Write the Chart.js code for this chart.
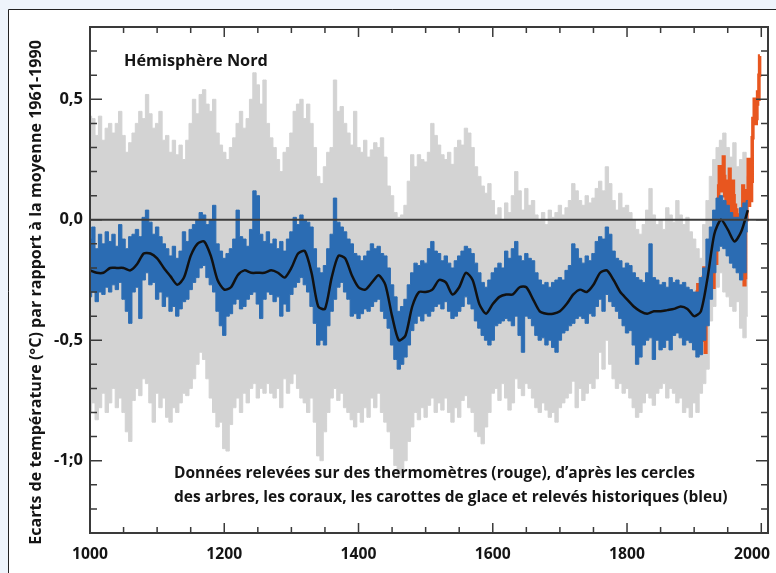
<!DOCTYPE html>
<html>
<head>
<meta charset="utf-8">
<script src="https://cdn.jsdelivr.net/npm/chart.js@4.4.0/dist/chart.umd.min.js"></script>
<style>
  html, body { margin: 0; padding: 0; background: #eef4fb; }
  #wrap { width: 776px; height: 573px; }
</style>
</head>
<body>
<div id="wrap"><canvas id="myChart" width="776" height="573"></canvas></div>
<script>
// axes
const xMin = 1000, xMax = 2010;
const yMin = -1.3, yMax = 0.8;
const xTickValues = [1000, 1200, 1400, 1600, 1800, 2000];
const yTickValues = [0.5, 0, -0.5, -1.0];
const yTickLabels = ['0,5', '0,0', '-0,5', '-1;0'];

// reconstruction, 5-year bins from 1000 to 1980 (band = range inside each bin)
const binStart = 1000, binStep = 5;
const blueHi = [
  -0.08, -0.03, -0.12, -0.06, -0.10, -0.05, -0.09, -0.06, -0.11, -0.02,
  -0.08, -0.12, -0.07, -0.06, -0.04, -0.07, 0.01, 0.04, -0.01, -0.06,
  -0.03, -0.07, -0.10, -0.12, -0.15, -0.11, -0.16, -0.13, -0.05, -0.09,
  -0.04, -0.02, 0.00, 0.03, 0.02, -0.02, 0.00, 0.06, -0.10, -0.13,
  -0.16, -0.14, -0.12, -0.08, 0.04, -0.07, -0.08, -0.11, -0.04, 0.12,
  0.10, -0.06, -0.09, -0.05, -0.10, -0.08, -0.12, -0.09, -0.13, -0.08,
  -0.05, 0.01, -0.02, 0.02, 0.00, -0.01, -0.03, -0.12, -0.20, -0.22,
  -0.19, -0.12, -0.06, 0.09, -0.01, -0.03, -0.05, -0.08, -0.10, -0.14,
  -0.15, -0.17, -0.15, -0.13, -0.10, -0.12, -0.11, -0.14, -0.15, -0.20,
  -0.27, -0.32, -0.38, -0.36, -0.33, -0.27, -0.22, -0.18, -0.19, -0.17,
  -0.18, -0.12, -0.09, -0.13, -0.14, -0.17, -0.15, -0.18, -0.20, -0.17,
  -0.15, -0.13, -0.11, -0.12, -0.14, -0.18, -0.22, -0.26, -0.28, -0.25,
  -0.22, -0.20, -0.18, -0.20, -0.13, -0.16, -0.12, -0.09, -0.15, -0.17,
  -0.14, -0.16, -0.17, -0.22, -0.25, -0.27, -0.26, -0.28, -0.26, -0.25,
  -0.24, -0.25, -0.21, -0.19, -0.10, -0.12, -0.16, -0.18, -0.15, -0.17,
  -0.14, -0.09, -0.07, -0.08, -0.03, -0.06, -0.13, -0.16, -0.17, -0.20,
  -0.18, -0.19, -0.22, -0.24, -0.25, -0.26, -0.22, -0.10, -0.24, -0.25,
  -0.27, -0.26, -0.28, -0.24, -0.26, -0.25, -0.27, -0.26, -0.28, -0.29,
  -0.30, -0.30, -0.24, -0.20, -0.08, -0.03, 0.04, 0.09, 0.10, 0.08,
  0.06, 0.03, 0.01, 0.01, 0.05, 0.07, 0.08
];
const blueLo = [
  -0.32, -0.30, -0.34, -0.30, -0.31, -0.28, -0.30, -0.27, -0.29, -0.26,
  -0.33, -0.38, -0.43, -0.30, -0.28, -0.41, -0.25, -0.22, -0.27, -0.26,
  -0.33, -0.30, -0.36, -0.32, -0.38, -0.36, -0.40, -0.37, -0.34, -0.33,
  -0.29, -0.26, -0.24, -0.20, -0.19, -0.24, -0.27, -0.30, -0.38, -0.44,
  -0.48, -0.40, -0.39, -0.35, -0.33, -0.37, -0.36, -0.33, -0.31, -0.30,
  -0.35, -0.41, -0.33, -0.30, -0.31, -0.34, -0.32, -0.40, -0.35, -0.38,
  -0.31, -0.28, -0.26, -0.24, -0.27, -0.30, -0.36, -0.43, -0.52, -0.50,
  -0.52, -0.44, -0.38, -0.33, -0.28, -0.26, -0.30, -0.33, -0.40, -0.39,
  -0.41, -0.39, -0.37, -0.38, -0.36, -0.34, -0.33, -0.38, -0.41, -0.45,
  -0.52, -0.58, -0.62, -0.60, -0.57, -0.52, -0.46, -0.43, -0.40, -0.42,
  -0.39, -0.40, -0.38, -0.36, -0.35, -0.37, -0.34, -0.38, -0.41, -0.40,
  -0.38, -0.36, -0.32, -0.35, -0.37, -0.42, -0.45, -0.48, -0.50, -0.52,
  -0.50, -0.44, -0.43, -0.42, -0.41, -0.42, -0.44, -0.40, -0.48, -0.55,
  -0.40, -0.41, -0.44, -0.48, -0.50, -0.49, -0.52, -0.50, -0.53, -0.55,
  -0.50, -0.47, -0.46, -0.44, -0.43, -0.41, -0.40, -0.41, -0.43, -0.39,
  -0.40, -0.36, -0.33, -0.38, -0.31, -0.34, -0.36, -0.38, -0.41, -0.44,
  -0.47, -0.46, -0.52, -0.60, -0.57, -0.52, -0.50, -0.49, -0.58, -0.50,
  -0.54, -0.53, -0.50, -0.54, -0.48, -0.47, -0.49, -0.52, -0.50, -0.51,
  -0.54, -0.57, -0.56, -0.50, -0.44, -0.33, -0.22, -0.13, -0.11, -0.12,
  -0.15, -0.18, -0.20, -0.22, -0.25, -0.22, -0.05
];

// uncertainty band (grey), same bins
const greyHi = [
  0.43, 0.42, 0.35, 0.43, 0.33, 0.38, 0.40, 0.36, 0.40, 0.45,
  0.35, 0.28, 0.32, 0.36, 0.40, 0.45, 0.42, 0.52, 0.44, 0.38,
  0.40, 0.45, 0.33, 0.35, 0.28, 0.33, 0.27, 0.31, 0.25, 0.33,
  0.40, 0.50, 0.44, 0.52, 0.54, 0.48, 0.45, 0.50, 0.36, 0.31,
  0.28, 0.25, 0.30, 0.34, 0.40, 0.45, 0.38, 0.42, 0.50, 0.61,
  0.56, 0.48, 0.58, 0.40, 0.34, 0.30, 0.25, 0.20, 0.28, 0.30,
  0.36, 0.45, 0.48, 0.50, 0.42, 0.48, 0.40, 0.30, 0.18, 0.15,
  0.22, 0.28, 0.30, 0.58, 0.45, 0.47, 0.40, 0.36, 0.31, 0.45,
  0.30, 0.28, 0.33, 0.26, 0.29, 0.32, 0.30, 0.34, 0.26, 0.14,
  0.10, 0.03, 0.01, 0.02, 0.06, 0.16, 0.27, 0.22, 0.27, 0.25,
  0.24, 0.28, 0.40, 0.35, 0.31, 0.27, 0.25, 0.28, 0.23, 0.30,
  0.33, 0.31, 0.38, 0.36, 0.30, 0.22, 0.18, 0.14, 0.11, 0.15,
  0.08, 0.02, 0.05, 0.00, 0.07, 0.03, 0.10, 0.20, 0.12, 0.04,
  0.13, 0.06, 0.08, 0.02, 0.00, 0.03, -0.02, 0.04, 0.01, 0.03,
  0.06, 0.02, 0.05, 0.08, 0.15, 0.12, 0.08, 0.06, 0.10, 0.07,
  0.09, 0.13, 0.16, 0.12, 0.22, 0.15, 0.08, 0.04, 0.11, 0.05,
  0.06, 0.03, 0.00, -0.04, -0.06, -0.02, 0.04, 0.13, 0.02, -0.02,
  0.00, -0.04, 0.05, 0.02, -0.01, 0.08, 0.02, -0.02, 0.01, -0.05,
  -0.08, -0.12, -0.16, -0.02, 0.08, 0.18, 0.25, 0.30, 0.33, 0.36,
  0.30, 0.26, 0.32, 0.22, 0.25, 0.28, 0.18
];
const greyLo = [
  -0.80, -0.76, -0.83, -0.78, -0.72, -0.80, -0.76, -0.70, -0.78, -0.74,
  -0.80, -0.88, -0.92, -0.75, -0.70, -0.73, -0.66, -0.68, -0.76, -0.84,
  -0.72, -0.78, -0.74, -0.82, -0.84, -0.78, -0.80, -0.76, -0.72, -0.73,
  -0.70, -0.66, -0.60, -0.55, -0.58, -0.66, -0.74, -0.80, -0.86, -0.84,
  -0.95, -0.96, -0.85, -0.78, -0.74, -0.80, -0.72, -0.76, -0.70, -0.68,
  -0.74, -0.70, -0.72, -0.68, -0.72, -0.74, -0.70, -0.78, -0.66, -0.72,
  -0.68, -0.64, -0.70, -0.74, -0.76, -0.80, -0.74, -0.84, -0.98, -1.00,
  -0.88, -0.80, -0.74, -0.70, -0.75, -0.72, -0.78, -0.80, -0.83, -0.86,
  -0.80, -0.84, -0.78, -0.82, -0.74, -0.78, -0.72, -0.80, -0.84, -0.88,
  -0.95, -1.02, -1.06, -1.05, -1.00, -0.92, -0.86, -0.80, -0.83, -0.78,
  -0.82, -0.77, -0.74, -0.80, -0.76, -0.79, -0.74, -0.80, -0.84, -0.78,
  -0.82, -0.75, -0.73, -0.78, -0.80, -0.88, -0.90, -0.93, -0.86, -0.80,
  -0.72, -0.70, -0.75, -0.68, -0.74, -0.79, -0.76, -0.66, -0.70, -0.73,
  -0.68, -0.70, -0.74, -0.78, -0.80, -0.76, -0.79, -0.82, -0.80, -0.84,
  -0.78, -0.76, -0.74, -0.72, -0.67, -0.78, -0.70, -0.75, -0.72, -0.68,
  -0.70, -0.66, -0.55, -0.62, -0.50, -0.60, -0.66, -0.70, -0.68, -0.72,
  -0.70, -0.74, -0.78, -0.82, -0.80, -0.76, -0.72, -0.74, -0.77, -0.72,
  -0.70, -0.68, -0.74, -0.70, -0.72, -0.76, -0.74, -0.80, -0.78, -0.82,
  -0.76, -0.80, -0.72, -0.68, -0.62, -0.42, -0.36, -0.28, -0.22, -0.30,
  -0.32, -0.36, -0.38, -0.34, -0.45, -0.49, -0.40
];

// smoothed curve (black), every 10 years
const smoothStart = 1000, smoothStep = 10;
const smoothVals = [
  -0.21, -0.22, -0.22, -0.20, -0.20, -0.20, -0.21, -0.185, -0.14, -0.14,
  -0.16, -0.20, -0.235, -0.27, -0.24, -0.15, -0.10, -0.09, -0.15, -0.25,
  -0.29, -0.28, -0.23, -0.21, -0.22, -0.22, -0.22, -0.21, -0.22, -0.24,
  -0.20, -0.14, -0.13, -0.22, -0.36, -0.37, -0.24, -0.15, -0.16, -0.23,
  -0.28, -0.29, -0.26, -0.23, -0.27, -0.40, -0.50, -0.48, -0.36, -0.30,
  -0.30, -0.29, -0.25, -0.26, -0.31, -0.28, -0.22, -0.25, -0.35, -0.39,
  -0.35, -0.32, -0.31, -0.31, -0.28, -0.28, -0.33, -0.38, -0.39, -0.39,
  -0.38, -0.35, -0.31, -0.29, -0.30, -0.27, -0.22, -0.21, -0.25, -0.30,
  -0.33, -0.36, -0.38, -0.39, -0.38, -0.38, -0.375, -0.37, -0.36, -0.37,
  -0.40, -0.38, -0.24, -0.06, 0.00, -0.04, -0.09, -0.05, 0.04
];

// thermometer record (red), yearly 1902-1998
const redStart = 1902;
const redVals = [
  -0.30, -0.36, -0.42, -0.33, -0.27, -0.45, -0.40, -0.44,
  -0.42, -0.46, -0.50, -0.41, -0.24, -0.20, -0.38, -0.55, -0.43, -0.30,
  -0.27, -0.12, -0.26, -0.20, -0.26, -0.14, -0.04, -0.12, -0.09, -0.28,
  -0.05, 0.02, -0.04, -0.18, -0.02, -0.08, -0.02, 0.14, 0.22, 0.12,
  0.16, 0.20, 0.12, 0.18, 0.26, 0.18, 0.10, 0.16, 0.08, 0.12,
  0.02, 0.14, 0.10, 0.21, 0.06, 0.04, -0.06, 0.14, 0.16, 0.10,
  -0.02, 0.06, -0.15, 0.04, -0.14, -0.12, -0.05, -0.02, -0.10, 0.02,
  -0.03, -0.12, -0.08, 0.14, -0.10, -0.27, -0.24, 0.12, 0.00, 0.06,
  0.12, 0.25, 0.06, 0.24, 0.10, 0.08, 0.16, 0.34, 0.42, 0.40,
  0.50, 0.48, 0.40, 0.42, 0.48, 0.53, 0.50, 0.60, 0.68
];

const GREY = '#d3d3d3', BLUE = '#2b6cb3', RED = '#e8561f', INK = '#151515', FRAME = '#3a3a3a';
const FONT = '"Open Sans", "DejaVu Sans", sans-serif';

function pts(vals, first, step) {
  return vals.map((v, i) => ({ x: first + i * step, y: v }));
}

// pick the bold font size that makes text span the given width
function fitFont(c, text, width) {
  c.font = 'bold 20px ' + FONT;
  const size = 20 * width / c.measureText(text).width;
  c.font = 'bold ' + size.toFixed(2) + 'px ' + FONT;
}

// background, frame, ticks and texts
const decor = {
  id: 'decor',
  beforeDraw(chart) {
    const c = chart.ctx;
    c.save();
    c.fillStyle = '#eef4fb';
    c.fillRect(0, 0, chart.width, chart.height);
    c.fillStyle = '#ffffff';
    c.fillRect(8.5, 9.5, chart.width, chart.height);
    c.strokeStyle = '#222';
    c.lineWidth = 1;
    c.beginPath();
    c.moveTo(8.5, chart.height);
    c.lineTo(8.5, 9.5);
    c.lineTo(chart.width, 9.5);
    c.stroke();
    c.restore();
  },
  afterDatasetsDraw(chart) {
    const c = chart.ctx, a = chart.chartArea;
    const y0 = chart.scales.y.getPixelForValue(0);
    c.save();
    c.strokeStyle = '#3c3c3c';
    c.lineWidth = 2;
    c.beginPath();
    c.moveTo(a.left, y0);
    c.lineTo(a.right, y0);
    c.stroke();
    c.restore();
  },
  afterDraw(chart) {
    const c = chart.ctx, a = chart.chartArea;
    const xs = chart.scales.x, ys = chart.scales.y;
    c.save();
    c.strokeStyle = FRAME;
    c.lineWidth = 1.5;
    c.beginPath();
    for (let yr = xMin + 50; yr <= 2000; yr += 50) {
      const px = xs.getPixelForValue(yr);
      const len = yr % 200 === 0 ? 10 : 6;
      c.moveTo(px, a.bottom); c.lineTo(px, a.bottom - len);
      c.moveTo(px, a.top); c.lineTo(px, a.top + len);
    }
    for (let k = -12; k <= 7; k++) {
      const py = ys.getPixelForValue(k / 10);
      const len = k % 5 === 0 ? 12 : 7;
      c.moveTo(a.left, py); c.lineTo(a.left + len, py);
      c.moveTo(a.right, py); c.lineTo(a.right - len, py);
    }
    c.stroke();
    c.lineWidth = 2;
    c.strokeRect(a.left, a.top, a.right - a.left, a.bottom - a.top);

    c.fillStyle = INK;
    c.font = 'bold 15.7px ' + FONT;
    c.textBaseline = 'alphabetic';
    xTickValues.forEach(v => {
      const w = c.measureText(String(v)).width;
      let left = xs.getPixelForValue(v) - w / 2;
      left = Math.min(left, chart.width - 6 - w);
      c.fillText(String(v), left, 558.5);
    });

    fitFont(c, 'Hémisphère Nord', 144);
    c.fillText('Hémisphère Nord', 124, 66);

    const note2 = 'des arbres, les coraux, les carottes de glace et relevés historiques (bleu)';
    fitFont(c, note2, 554);
    c.fillText('Données relevées sur des thermomètres (rouge), d\u2019après les cercles', 174, 477.5);
    c.fillText(note2, 174, 502);

    const yTitle = 'Ecarts de température (°C) par rapport à la moyenne 1961-1990';
    c.translate(36, 292.5);
    c.rotate(-Math.PI / 2);
    c.textAlign = 'center';
    c.textBaseline = 'middle';
    fitFont(c, yTitle, 505);
    c.fillText(yTitle, 0, 0);
    c.restore();
  }
};

const ctx = document.getElementById('myChart');
const myChart = new Chart(ctx, {
  type: 'line',
  data: {
    datasets: [
      { data: pts(smoothVals, smoothStart, smoothStep), borderColor: '#111', borderWidth: 2.5,
        tension: 0.25, fill: false, order: 0 },
      { data: pts(blueHi, binStart, binStep), borderColor: BLUE, backgroundColor: BLUE, borderWidth: 1,
        stepped: 'middle', fill: '+1', order: 1 },
      { data: pts(blueLo, binStart, binStep), borderColor: BLUE, borderWidth: 1,
        stepped: 'middle', fill: false, order: 2 },
      { data: pts(redVals, redStart, 1), borderColor: RED, borderWidth: 3.5,
        stepped: 'middle', fill: false, order: 3 },
      { data: pts(greyHi, binStart, binStep), borderColor: GREY, backgroundColor: GREY, borderWidth: 1,
        stepped: 'middle', fill: '+1', order: 4 },
      { data: pts(greyLo, binStart, binStep), borderColor: GREY, borderWidth: 1,
        stepped: 'middle', fill: false, order: 5 }
    ]
  },
  options: {
    responsive: false,
    animation: false,
    layout: { padding: { top: 27, right: 8, left: 0, bottom: 0 } },
    elements: { point: { radius: 0 } },
    plugins: { legend: { display: false }, tooltip: { enabled: false } },
    scales: {
      x: {
        type: 'linear', min: xMin, max: xMax,
        grid: { display: false, drawTicks: false },
        border: { display: false },
        ticks: { display: false },
        afterBuildTicks: s => { s.ticks = xTickValues.map(v => ({ value: v })); },
        afterFit: s => { s.height = 40; s.paddingLeft = 0; s.paddingRight = 0; }
      },
      y: {
        min: yMin, max: yMax,
        grid: { display: false, drawTicks: false },
        border: { display: false },
        ticks: {
          padding: 7, color: INK,
          font: { family: FONT, weight: 'bold', size: 16.5 },
          callback: (v, i) => yTickLabels[i]
        },
        afterBuildTicks: s => { s.ticks = yTickValues.map(v => ({ value: v })); },
        afterFit: s => { s.width = 90; s.paddingTop = 0; s.paddingBottom = 0; }
      }
    }
  },
  plugins: [decor]
});
</script>
</body>
</html>
